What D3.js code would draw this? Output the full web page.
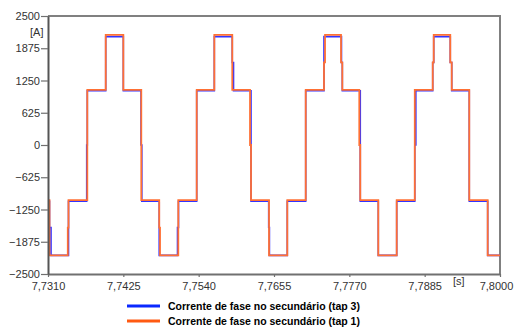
<!DOCTYPE html>
<html>
<head>
<meta charset="utf-8">
<script src="https://cdn.jsdelivr.net/npm/d3@7"></script>
<style>
  body { margin: 0; background: #fff; }
  svg { display: block; font-family: "Liberation Sans", Arial, sans-serif; }
</style>
</head>
<body>
<div class="chart"></div>
<script>
// step breakpoints: [time s, current A]
const tap3 = [
  [7.73100, -1090], [7.73123, -1600], [7.73146, -2140], [7.73413, -1090],
  [7.73691, 0], [7.73700, 1050], [7.73981, 2100], [7.74250, 1050],
  [7.74520, 0], [7.74532, -1090], [7.74798, -2140], [7.75077, -1600],
  [7.75092, -1090], [7.75370, 1050], [7.75639, 2100], [7.75913, 1600],
  [7.75932, 1050], [7.76199, -1090], [7.76469, -1600], [7.76480, -2140],
  [7.76753, -1090], [7.77034, 1050], [7.77313, 2100], [7.77580, 1600],
  [7.77593, 1050], [7.77867, -1090], [7.78142, -2140], [7.78423, -1090],
  [7.78699, 0], [7.78715, 1050], [7.78973, 1600], [7.78988, 2100],
  [7.79241, 1600], [7.79263, 1050], [7.79531, -1090], [7.79812, -2140],
  [7.80000, -2140]
]

const tap1 = [
  [7.73100, -1070], [7.73123, -2140], [7.73402, -1600], [7.73413, -1070],
  [7.73700, 1070], [7.73981, 2135], [7.74250, 1070], [7.74524, -1070],
  [7.74798, -1600], [7.74810, -2140], [7.75089, -1070], [7.75370, 1070],
  [7.75639, 2135], [7.75913, 1070], [7.76184, 0], [7.76199, -1070],
  [7.76474, -2140], [7.76753, -1070], [7.77034, 1070], [7.77313, 1600],
  [7.77329, 2135], [7.77573, 1600], [7.77593, 1070], [7.77852, 0],
  [7.77867, -1070], [7.78142, -2140], [7.78423, -1070], [7.78699, 1070],
  [7.78973, 1600], [7.78988, 2135], [7.79241, 1600], [7.79263, 1070],
  [7.79531, -1070], [7.79812, -2140], [7.80000, -2140]
]

const xTicks = [7.7310, 7.7425, 7.7540, 7.7655, 7.7770, 7.7885, 7.8000]
const yTicks = [2500, 1875, 1250, 625, 0, -625, -1250, -1875, -2500]

const series = [
  { name: 'Corrente de fase no secundário (tap 3)', data: tap3, color: '#3434ff', legend: '#0a28ff', w: 1.6 },
  { name: 'Corrente de fase no secundário (tap 1)', data: tap1, color: '#ff7034', legend: '#ff5a12', w: 1.8 }
]

const width = 514
const height = 329
const margin = { top: 16, right: 14, bottom: 55, left: 48 }

const svg = d3.select('.chart')
  .append('svg')
  .attr('width', width)
  .attr('height', height)

const x = d3.scaleLinear()
  .domain([7.7310, 7.8000])
  .range([margin.left, width - margin.right])

const y = d3.scaleLinear()
  .domain([-2500, 2500])
  .range([height - margin.bottom, margin.top])

const fmt = d => d3.format('.4f')(d).replace('.', ',')

// frame top / right
svg.append('path')
  .attr('d', `M${x.range()[0]},${y(2500)}H${x.range()[1]}V${y(-2500)}`)
  .attr('fill', 'none')
  .attr('stroke', '#808080')
  .attr('stroke-width', 2)

const line = d3.line()
  .x(d => x(d[0]))
  .y(d => y(d[1]))
  .curve(d3.curveStepAfter)

series.forEach(s => {
  svg.append('path')
    .datum(s.data)
    .attr('fill', 'none')
    .attr('stroke', s.color)
    .attr('stroke-width', s.w)
    .attr('d', line)
})

const xAxis = svg.append('g')
  .attr('transform', `translate(0,${y(-2500)})`)
  .call(d3.axisBottom(x).tickValues(xTicks).tickFormat(fmt).tickSize(3).tickSizeOuter(0))

const yAxis = svg.append('g')
  .attr('transform', `translate(${x(7.7310)},0)`)
  .call(d3.axisLeft(y).tickValues(yTicks).tickFormat(d3.format('d')).tickSize(7).tickPadding(1).tickSizeOuter(0))

;[xAxis, yAxis].forEach(g => {
  g.select('.domain').attr('stroke', '#707070').attr('stroke-width', 2)
  g.selectAll('.tick line').attr('stroke', '#707070').attr('stroke-width', 1.2)
  g.selectAll('.tick text')
    .attr('fill', '#333')
    .style('font-size', '11px')
    .style('font-family', '"Liberation Sans", Arial, sans-serif')
})
xAxis.selectAll('.tick text').attr('dy', '0.95em')
xAxis.selectAll('.tick text').filter(d => d === 7.8000).attr('x', -4)
yAxis.select('.domain').attr('stroke', '#555')

svg.append('text')
  .attr('x', 30)
  .attr('y', 36)
  .attr('fill', '#333')
  .style('font-size', '11px')
  .text('[A]')

svg.append('text')
  .attr('x', 453)
  .attr('y', 285)
  .attr('fill', '#333')
  .style('font-size', '11px')
  .text('[s]')

// legend
const legend = svg.append('g')
  .selectAll('g')
  .data(series)
  .join('g')
  .attr('transform', (d, i) => `translate(127,${306 + i * 15})`)

legend.append('line')
  .attr('x1', 0).attr('x2', 33)
  .attr('stroke', d => d.legend)
  .attr('stroke-width', 3)

legend.append('text')
  .attr('x', 41)
  .attr('y', 4)
  .attr('fill', '#000')
  .style('font-size', '10.5px')
  .style('font-weight', 'bold')
  .text(d => d.name)
</script>
</body>
</html>
